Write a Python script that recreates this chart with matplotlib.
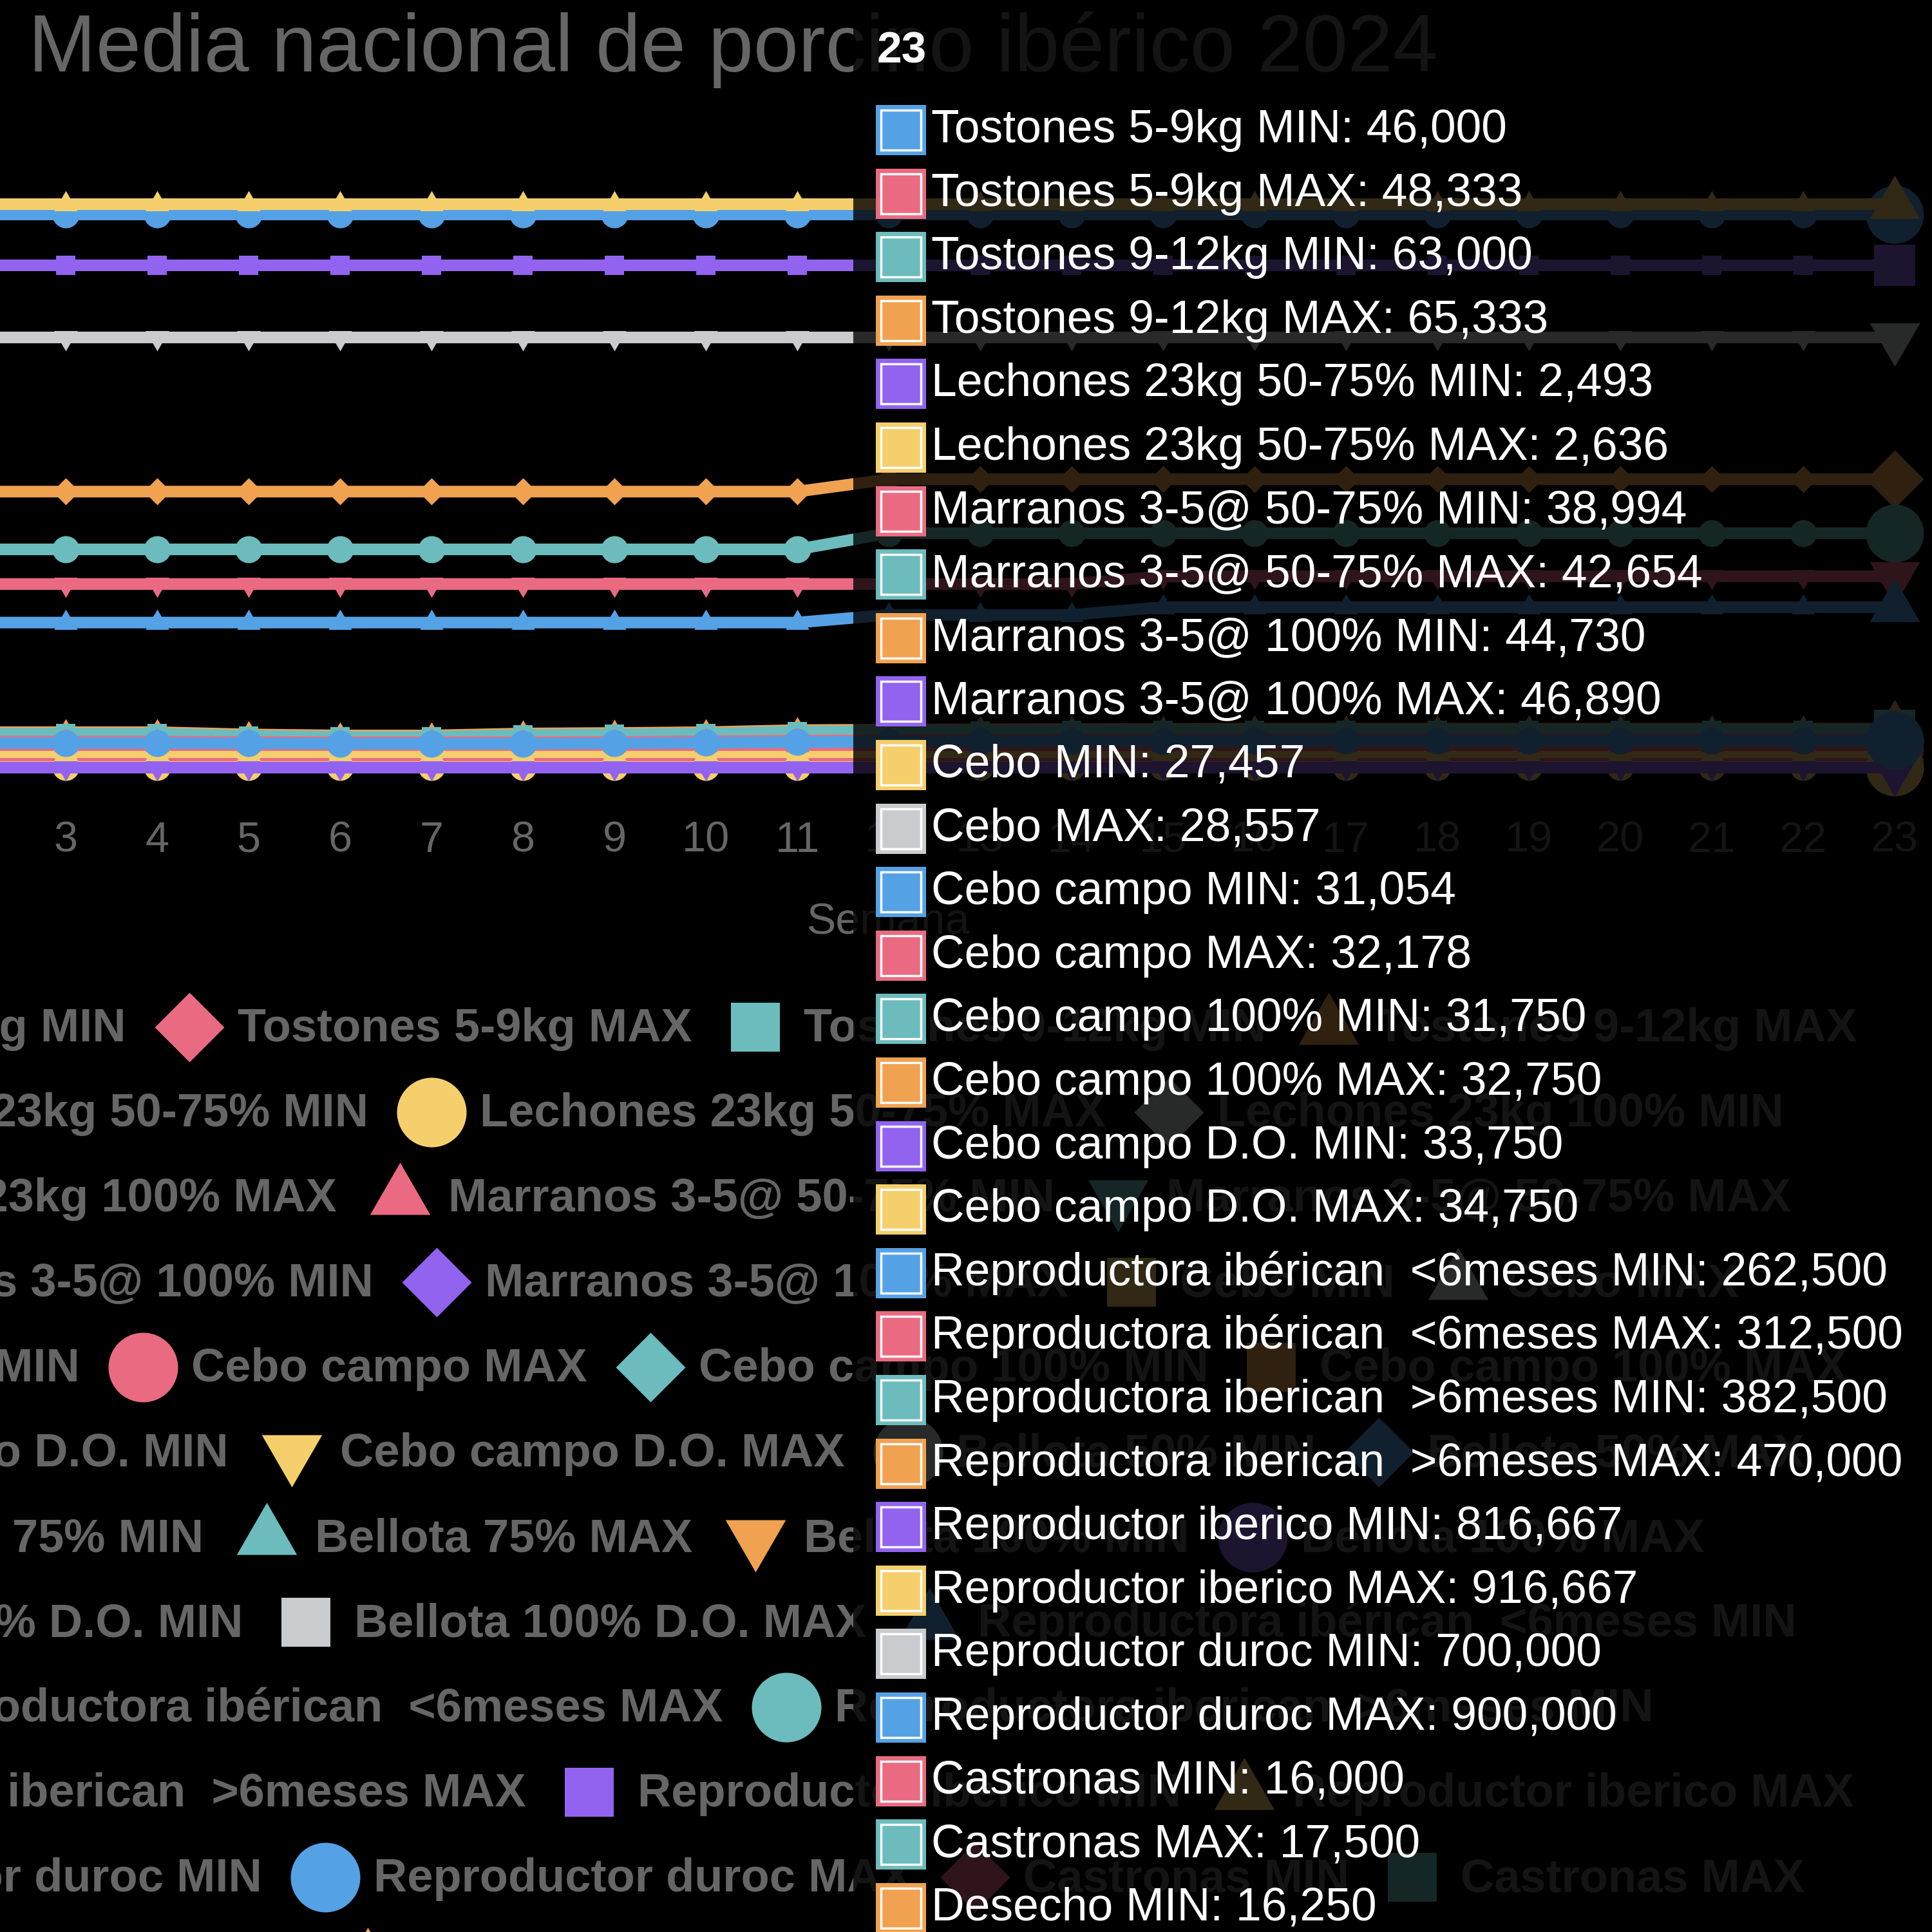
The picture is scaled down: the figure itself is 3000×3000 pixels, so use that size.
import matplotlib
matplotlib.use("Agg")
import matplotlib.pyplot as plt
from matplotlib.patches import Rectangle

plt.rcParams['font.family'] = ['Liberation Sans', 'DejaVu Sans']

# semanas 1..23
weeks = list(range(1, 24))

# precios medios por semana
tostones_5_9_min = [42000, 42000, 42000, 42000, 41500, 41000, 41000, 41000, 41500, 42500, 43500, 44000, 44500, 45000, 45000, 45500, 45500, 46000, 46000, 46000, 46000, 46000, 46000]
tostones_5_9_max = [44333, 44333, 44333, 44333, 43833, 43333, 43333, 43333, 43833, 44833, 45833, 46333, 46833, 47333, 47333, 47833, 47833, 48333, 48333, 48333, 48333, 48333, 48333]
tostones_9_12_min = [57333, 57333, 57333, 57333, 53667, 52000, 52000, 55167, 56000, 57333, 60667, 61333, 62000, 62333, 62667, 63000, 63000, 63000, 63000, 63000, 63000, 63000, 63000]
tostones_9_12_max = [59667, 59667, 59667, 59667, 56000, 54333, 54333, 57500, 58333, 59667, 63000, 63667, 64333, 64667, 65000, 65333, 65333, 65333, 65333, 65333, 65333, 65333, 65333]
lechones_5075_min = [2493, 2493, 2493, 2493, 2493, 2493, 2493, 2493, 2493, 2493, 2493, 2493, 2493, 2493, 2493, 2493, 2493, 2493, 2493, 2493, 2493, 2493, 2493]
lechones_5075_max = [2636, 2636, 2636, 2636, 2636, 2636, 2636, 2636, 2636, 2636, 2636, 2636, 2636, 2636, 2636, 2636, 2636, 2636, 2636, 2636, 2636, 2636, 2636]
lechones_100_min = []
lechones_100_max = []
marranos_5075_min = [38994, 38994, 38994, 38994, 38994, 38994, 38994, 38994, 38994, 38994, 38994, 38994, 38994, 38994, 38994, 38994, 38994, 38994, 38994, 38994, 38994, 38994, 38994]
marranos_5075_max = [42654, 42654, 42654, 42654, 42654, 42654, 42654, 42654, 42654, 42654, 42654, 42654, 42654, 42654, 42654, 42654, 42654, 42654, 42654, 42654, 42654, 42654, 42654]
marranos_100_min = [44730, 44730, 44730, 44730, 44730, 44730, 44730, 44730, 44730, 44730, 44730, 44730, 44730, 44730, 44730, 44730, 44730, 44730, 44730, 44730, 44730, 44730, 44730]
marranos_100_max = [46890, 46890, 46890, 46890, 46890, 46890, 46890, 46890, 46890, 46890, 46890, 46890, 46890, 46890, 46890, 46890, 46890, 46890, 46890, 46890, 46890, 46890, 46890]
cebo_min = [27457, 27457, 27457, 27457, 27457, 27457, 27457, 27457, 27457, 27457, 27457, 27457, 27457, 27457, 27457, 27457, 27457, 27457, 27457, 27457, 27457, 27457, 27457]
cebo_max = [28557, 28557, 28557, 28557, 28557, 28557, 28557, 28557, 28557, 28557, 28557, 28557, 28557, 28557, 28557, 28557, 28557, 28557, 28557, 28557, 28557, 28557, 28557]
cebo_campo_min = [31054, 31054, 31054, 31054, 31054, 31054, 31054, 31054, 31054, 31054, 31054, 31054, 31054, 31054, 31054, 31054, 31054, 31054, 31054, 31054, 31054, 31054, 31054]
cebo_campo_max = [32178, 32178, 32178, 32178, 32178, 32178, 32178, 32178, 32178, 32178, 32178, 32178, 32178, 32178, 32178, 32178, 32178, 32178, 32178, 32178, 32178, 32178, 32178]
cebo_campo100_min = [31750, 31750, 31750, 31750, 31750, 31750, 31750, 31750, 31750, 31750, 31750, 31750, 31750, 31750, 31750, 31750, 31750, 31750, 31750, 31750, 31750, 31750, 31750]
cebo_campo100_max = [32750, 32750, 32750, 32750, 32750, 32750, 32750, 32750, 32750, 32750, 32750, 32750, 32750, 32750, 32750, 32750, 32750, 32750, 32750, 32750, 32750, 32750, 32750]
cebo_campo_do_min = [33750, 33750, 33750, 33750, 33750, 33750, 33750, 33750, 33750, 33750, 33750, 33750, 33750, 33750, 33750, 33750, 33750, 33750, 33750, 33750, 33750, 33750, 33750]
cebo_campo_do_max = [34750, 34750, 34750, 34750, 34750, 34750, 34750, 34750, 34750, 34750, 34750, 34750, 34750, 34750, 34750, 34750, 34750, 34750, 34750, 34750, 34750, 34750, 34750]
bellota50_min = []
bellota50_max = []
bellota75_min = []
bellota75_max = []
bellota100_min = []
bellota100_max = []
bellota100_do_min = []
bellota100_do_max = []
repr_menor6_min = [237500, 237500, 237500, 237500, 237500, 237500, 237500, 237500, 237500, 237500, 237500, 250000, 250000, 250000, 262500, 262500, 262500, 262500, 262500, 262500, 262500, 262500, 262500]
repr_menor6_max = [300000, 300000, 300000, 300000, 300000, 300000, 300000, 300000, 300000, 300000, 300000, 300000, 300000, 300000, 312500, 312500, 312500, 312500, 312500, 312500, 312500, 312500, 312500]
repr_mayor6_min = [356250, 356250, 356250, 356250, 356250, 356250, 356250, 356250, 356250, 356250, 356250, 382500, 382500, 382500, 382500, 382500, 382500, 382500, 382500, 382500, 382500, 382500, 382500]
repr_mayor6_max = [450000, 450000, 450000, 450000, 450000, 450000, 450000, 450000, 450000, 450000, 450000, 470000, 470000, 470000, 470000, 470000, 470000, 470000, 470000, 470000, 470000, 470000, 470000]
reproductor_iberico_min = [816667, 816667, 816667, 816667, 816667, 816667, 816667, 816667, 816667, 816667, 816667, 816667, 816667, 816667, 816667, 816667, 816667, 816667, 816667, 816667, 816667, 816667, 816667]
reproductor_iberico_max = [916667, 916667, 916667, 916667, 916667, 916667, 916667, 916667, 916667, 916667, 916667, 916667, 916667, 916667, 916667, 916667, 916667, 916667, 916667, 916667, 916667, 916667, 916667]
reproductor_duroc_min = [700000, 700000, 700000, 700000, 700000, 700000, 700000, 700000, 700000, 700000, 700000, 700000, 700000, 700000, 700000, 700000, 700000, 700000, 700000, 700000, 700000, 700000, 700000]
reproductor_duroc_max = [900000, 900000, 900000, 900000, 900000, 900000, 900000, 900000, 900000, 900000, 900000, 900000, 900000, 900000, 900000, 900000, 900000, 900000, 900000, 900000, 900000, 900000, 900000]
castronas_min = [16000, 16000, 16000, 16000, 16000, 16000, 16000, 16000, 16000, 16000, 16000, 16000, 16000, 16000, 16000, 16000, 16000, 16000, 16000, 16000, 16000, 16000, 16000]
castronas_max = [17500, 17500, 17500, 17500, 17500, 17500, 17500, 17500, 17500, 17500, 17500, 17500, 17500, 17500, 17500, 17500, 17500, 17500, 17500, 17500, 17500, 17500, 17500]
desecho_min = [16250, 16250, 16250, 16250, 16250, 16250, 16250, 16250, 16250, 16250, 16250, 16250, 16250, 16250, 16250, 16250, 16250, 16250, 16250, 16250, 16250, 16250, 16250]
desecho_max = [17500, 17500, 17500, 17500, 17500, 17500, 17500, 17500, 17500, 17500, 17500, 17500, 17500, 17500, 17500, 17500, 17500, 17500, 17500, 17500, 17500, 17500, 17500]

labels = [
    "Tostones 5-9kg MIN", "Tostones 5-9kg MAX", "Tostones 9-12kg MIN", "Tostones 9-12kg MAX",
    "Lechones 23kg 50-75% MIN", "Lechones 23kg 50-75% MAX", "Lechones 23kg 100% MIN", "Lechones 23kg 100% MAX",
    "Marranos 3-5@ 50-75% MIN", "Marranos 3-5@ 50-75% MAX", "Marranos 3-5@ 100% MIN", "Marranos 3-5@ 100% MAX",
    "Cebo MIN", "Cebo MAX", "Cebo campo MIN", "Cebo campo MAX",
    "Cebo campo 100% MIN", "Cebo campo 100% MAX", "Cebo campo D.O. MIN", "Cebo campo D.O. MAX",
    "Bellota 50% MIN", "Bellota 50% MAX", "Bellota 75% MIN", "Bellota 75% MAX",
    "Bellota 100% MIN", "Bellota 100% MAX", "Bellota 100% D.O. MIN", "Bellota 100% D.O. MAX",
    "Reproductora ibérican  <6meses MIN", "Reproductora ibérican  <6meses MAX",
    "Reproductora iberican  >6meses MIN", "Reproductora iberican  >6meses MAX",
    "Reproductor iberico MIN", "Reproductor iberico MAX", "Reproductor duroc MIN", "Reproductor duroc MAX",
    "Castronas MIN", "Castronas MAX", "Desecho MIN", "Desecho MAX",
]
series = [
    tostones_5_9_min, tostones_5_9_max, tostones_9_12_min, tostones_9_12_max,
    lechones_5075_min, lechones_5075_max, lechones_100_min, lechones_100_max,
    marranos_5075_min, marranos_5075_max, marranos_100_min, marranos_100_max,
    cebo_min, cebo_max, cebo_campo_min, cebo_campo_max,
    cebo_campo100_min, cebo_campo100_max, cebo_campo_do_min, cebo_campo_do_max,
    bellota50_min, bellota50_max, bellota75_min, bellota75_max,
    bellota100_min, bellota100_max, bellota100_do_min, bellota100_do_max,
    repr_menor6_min, repr_menor6_max, repr_mayor6_min, repr_mayor6_max,
    reproductor_iberico_min, reproductor_iberico_max, reproductor_duroc_min, reproductor_duroc_max,
    castronas_min, castronas_max, desecho_min, desecho_max,
]

# filas de la leyenda (indices 1-based) y el item que sirve de ancla
legend_rows = [[1, 2, 3, 4], [5, 6, 7], [8, 9, 10], [11, 12, 13, 14], [15, 16, 17, 18],
               [19, 20, 21, 22], [23, 24, 25, 26], [27, 28, 29], [30, 31], [32, 33, 34],
               [35, 36, 37, 38], [39, 40]]
legend_anchor = [(2, 294), (6, 670), (9, 621), (12, 678), (16, 222), (20, 453), (24, 414),
                 (28, 475), (31, 1221), (33, 915), (36, 505), (39, 571)]

palette = ['#55a1e5', '#ea6b81', '#6cbcbd', '#f0a250', '#9263ef', '#f5cf6c', '#c9cbce']
shape_cycle = ['downtri', 'circle', 'diamond', 'square', 'triangle']
MARK = {
    'circle': 'o',
    'triangle': [(0, 1), (-0.866, -0.5), (0.866, -0.5), (0, 1)],
    'downtri': [(0, -1), (-0.866, 0.5), (0.866, 0.5), (0, -1)],
    'diamond': [(0, 1), (1, 0), (0, -1), (-1, 0), (0, 1)],
    'square': [(-1, -1), (1, -1), (1, 1), (-1, 1), (-1, -1)],
}


def msize(r, shape):
    # radio en px -> tamano de marcador en pt
    if shape == 'square':
        return r * 2 ** 0.5 * 0.72
    return 2 * r * 0.72


W = H = 3000
GREY = '#666666'
fig = plt.figure(figsize=(30, 30), dpi=100, facecolor='black')

# area del grafico (px desde arriba)
x_w1, x_w23 = -182, 2942
y_zero, y_top = 1194, 237
ax = fig.add_axes([x_w1 / W, 1 - y_zero / H, (x_w23 - x_w1) / W, (y_zero - y_top) / H], zorder=1)
ax.set_facecolor('black')
ax.set_xlim(1, 23)
ax.set_ylim(0, 1000000)
for s in ax.spines.values():
    s.set_visible(False)
ax.set_yticks([])
ax.set_xticks(weeks)
ax.tick_params(axis='x', length=0, pad=58, labelsize=48, labelcolor=GREY)
ax.set_xlabel('Semana', fontsize=49, color=GREY)
ax.xaxis.set_label_coords(0.5, -0.2163)

for i, (lab, vals) in enumerate(zip(labels, series), start=1):
    if not vals:
        continue
    col = palette[(i - 1) % 7]
    shp = shape_cycle[i % 5]
    z = 200 - 2 * i
    ax.plot(weeks, vals, color=col, lw=13, marker=MARK[shp], ms=msize(21, shp), mew=0,
            solid_capstyle='butt', zorder=z, clip_on=False)
    ax.plot([weeks[-1]], [vals[-1]], ls='none', marker=MARK[shp], ms=msize(45, shp), mew=0,
            color=col, zorder=z + 0.5, clip_on=False)

# capa superior en pixeles
ov = fig.add_axes([0, 0, 1, 1], zorder=2)
ov.set_xlim(0, W)
ov.set_ylim(H, 0)
ov.axis('off')

ov.text(44, 111, 'Media nacional de porcino ibérico 2024', fontsize=90.5, color=GREY,
        va='baseline', zorder=1)

# leyenda
renderer = fig.canvas.get_renderer()
for r, (items, (a_item, a_x)) in enumerate(zip(legend_rows, legend_anchor)):
    yc = 1590 + r * 132
    texts, widths = {}, {}
    for it in items:
        t = ov.text(0, yc + 27, labels[it - 1], fontsize=52, fontweight='bold', color=GREY,
                    va='baseline', zorder=1)
        texts[it] = t
        widths[it] = t.get_window_extent(renderer).width
    mx = {a_item: a_x}
    k = items.index(a_item)
    for j in range(k + 1, len(items)):
        p = items[j - 1]
        mx[items[j]] = mx[p] + 75 + widths[p] + 98
    for j in range(k - 1, -1, -1):
        mx[items[j]] = mx[items[j + 1]] - 98 - widths[items[j]] - 75
    for it in items:
        texts[it].set_x(mx[it] + 75)
        shp = shape_cycle[it % 5]
        ov.plot([mx[it]], [yc + 5], ls='none', marker=MARK[shp], ms=msize(54, shp), mew=0,
                color=palette[(it - 1) % 7], zorder=1, clip_on=False)

# tooltip
ov.add_patch(Rectangle((1325, -50), 2000, 3100, facecolor='black', edgecolor='none',
                       alpha=0.8, zorder=5))
ov.text(1362, 98, str(weeks[-1]), fontsize=50, fontweight='bold', color='white',
        va='baseline', zorder=10)
row = 0
for i, (lab, vals) in enumerate(zip(labels, series), start=1):
    if not vals:
        continue
    yc = 195.5 + row * 98.6
    col = palette[(i - 1) % 7]
    ov.add_patch(Rectangle((1360, yc + 6.5 - 39), 78, 78, facecolor=col, edgecolor='none', zorder=10))
    ov.add_patch(Rectangle((1368, yc + 6.5 - 31), 62, 62, fill=False, edgecolor='white', lw=2.5, zorder=11))
    ov.text(1446, yc + 25.5, f"{lab}: {vals[-1]:,}", fontsize=51.5, color='white',
            va='baseline', zorder=11)
    row += 1

fig.savefig('out.png', dpi=100, facecolor='black')
